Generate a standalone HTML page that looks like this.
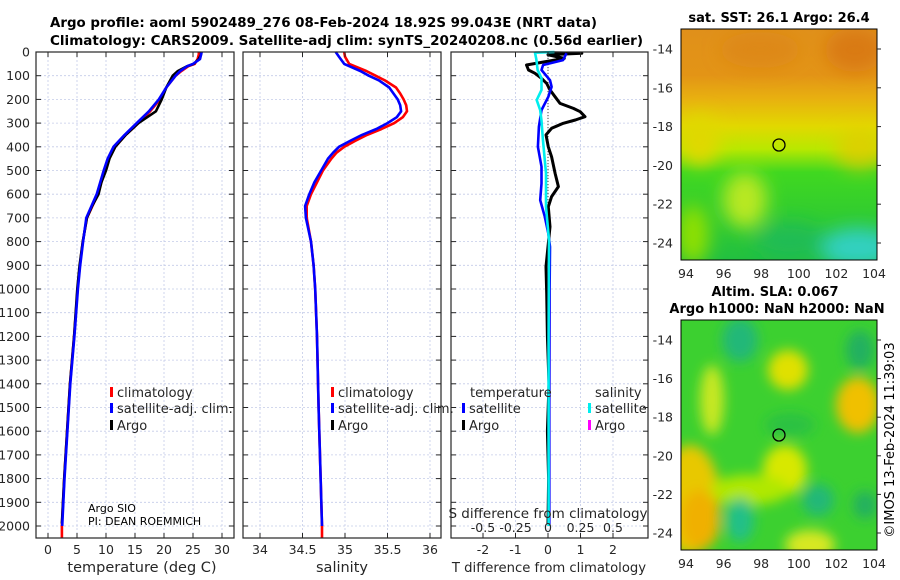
<!DOCTYPE html>
<html><head><meta charset="utf-8"><style>
html,body{margin:0;padding:0;background:#fff;}
svg{display:block;font-family:"DejaVu Sans","Liberation Sans",sans-serif;}
</style></head><body>
<svg id="chart" width="900" height="580" viewBox="0 0 900 580" xmlns="http://www.w3.org/2000/svg">
<defs>
<linearGradient id="sstBase" x1="0" y1="0" x2="0" y2="1">
<stop offset="0" stop-color="#e0901a"/><stop offset="0.2" stop-color="#e39416"/>
<stop offset="0.3" stop-color="#e8b010"/><stop offset="0.42" stop-color="#e2d800"/>
<stop offset="0.52" stop-color="#b8e800"/><stop offset="0.62" stop-color="#40d820"/>
<stop offset="1" stop-color="#22c040"/></linearGradient>
<filter id="blur1" x="-50%" y="-50%" width="200%" height="200%"><feGaussianBlur stdDeviation="9"/></filter>
<filter id="blur2" x="-50%" y="-50%" width="200%" height="200%"><feGaussianBlur stdDeviation="6"/></filter>
<clipPath id="clipMap1"><rect x="681" y="29" width="196" height="231"/></clipPath>
<clipPath id="clipMap2"><rect x="681" y="320" width="196" height="230"/></clipPath>
</defs>
<text x="50" y="27" font-size="13.5" font-weight="bold" textLength="547" lengthAdjust="spacingAndGlyphs">Argo profile: aoml 5902489_276 08-Feb-2024 18.92S 99.043E (NRT data)</text>
<text x="50" y="45" font-size="13.5" font-weight="bold" textLength="593" lengthAdjust="spacingAndGlyphs">Climatology: CARS2009. Satellite-adj clim: synTS_20240208.nc (0.56d earlier)</text>
<g id="g1"></g>
<g id="g2"></g>
<g id="g3"></g>

<g>
<text x="779" y="22" font-size="13" font-weight="bold" text-anchor="middle">sat. SST: 26.1 Argo: 26.4</text>
<g clip-path="url(#clipMap1)">
<rect x="681" y="29" width="196" height="231" fill="url(#sstBase)"/>
<g filter="url(#blur1)">
<ellipse cx="855" cy="50" rx="30" ry="22" fill="#d5700c" opacity="0.7"/>
<ellipse cx="760" cy="50" rx="40" ry="18" fill="#da8014" opacity="0.5"/>
<ellipse cx="745" cy="200" rx="22" ry="28" fill="#b8e820"/>
<ellipse cx="693" cy="235" rx="16" ry="30" fill="#90e000"/>
<ellipse cx="700" cy="140" rx="20" ry="25" fill="#e0d800"/>
<ellipse cx="860" cy="150" rx="25" ry="20" fill="#e8c800" opacity="0.7"/>
<ellipse cx="858" cy="248" rx="38" ry="20" fill="#30d0c0"/>
<ellipse cx="790" cy="240" rx="35" ry="18" fill="#20b860" opacity="0.7"/>
</g>
</g>
<rect x="681" y="29" width="196" height="231" fill="none" stroke="#000" stroke-width="1"/>
<circle cx="779" cy="145" r="6" fill="none" stroke="#000" stroke-width="1.3"/>
</g>

<g>
<text x="775" y="296" font-size="13" font-weight="bold" text-anchor="middle">Altim. SLA: 0.067</text>
<text x="777" y="313" font-size="13" font-weight="bold" text-anchor="middle">Argo h1000: NaN h2000: NaN</text>
<g clip-path="url(#clipMap2)">
<rect x="681" y="320" width="196" height="230" fill="#3cd030"/>
<g filter="url(#blur2)">
<ellipse cx="690" cy="500" rx="30" ry="55" fill="#e8c800"/>
<ellipse cx="700" cy="520" rx="20" ry="30" fill="#f0b000"/>
<ellipse cx="712" cy="400" rx="12" ry="35" fill="#c8e820"/>
<ellipse cx="788" cy="370" rx="20" ry="20" fill="#e0e000"/>
<ellipse cx="858" cy="405" rx="22" ry="28" fill="#f0c000"/>
<ellipse cx="785" cy="470" rx="22" ry="25" fill="#d8e800"/>
<ellipse cx="750" cy="490" rx="40" ry="15" fill="#b0e800"/>
<ellipse cx="810" cy="545" rx="25" ry="15" fill="#d8e820"/>
<ellipse cx="740" cy="340" rx="18" ry="22" fill="#20b878"/>
<ellipse cx="740" cy="520" rx="14" ry="22" fill="#20c088"/>
<ellipse cx="818" cy="500" rx="16" ry="16" fill="#20b878"/>
<ellipse cx="860" cy="350" rx="14" ry="20" fill="#20b060"/>
<ellipse cx="865" cy="505" rx="12" ry="14" fill="#20b060"/>
<ellipse cx="790" cy="425" rx="25" ry="12" fill="#20b850" opacity="0.6"/>
</g>
</g>
<rect x="681" y="320" width="196" height="230" fill="none" stroke="#000" stroke-width="1"/>
<circle cx="779" cy="435" r="6" fill="none" stroke="#000" stroke-width="1.3"/>
</g>
<text transform="translate(894,440) rotate(-90)" font-size="13" text-anchor="middle">©IMOS 13-Feb-2024 11:39:03</text>
<text x="88" y="512" font-size="11">Argo SIO</text>
<text x="88" y="525" font-size="11">PI: DEAN ROEMMICH</text>
</svg>
<script>
// ---- data ----
const depthT = [0,10,30,50,60,80,100,150,200,250,300,350,400,450,500,600,700,800,900,1000,1200,1400,1600,1800,2000,2050];
const tClim = [26.0,26.0,25.8,25.3,24.2,23.0,22.0,20.4,19.3,17.6,15.6,13.4,11.6,10.5,9.8,8.6,6.7,6.0,5.5,5.1,4.5,3.8,3.3,2.8,2.4,2.4];
const tSat  = [26.5,26.4,26.2,25.0,24.0,22.8,22.0,20.4,19.1,17.4,15.3,13.2,11.3,10.3,9.6,8.4,6.6,6.05,5.55,5.15,4.55,3.85,3.35,2.85,2.45];
const depthA = [0,10,30,50,60,80,100,150,200,250,275,300,350,400,450,500,550,600,650,700,800,900,1000,1200,1400,1600,1800,1990];
const tArgo = [26.4,26.4,26.0,25.1,24.0,22.4,21.5,20.4,19.6,18.6,17.1,15.6,13.4,11.6,10.6,10.0,9.2,8.7,7.6,6.7,6.0,5.45,5.05,4.5,3.8,3.3,2.8,2.4];
const depthS = [0,20,50,80,100,120,150,175,200,225,250,275,300,325,350,375,400,425,450,500,550,600,650,700,800,900,1000,1200,1500,2000,2050];
const sClim = [34.99,35.0,35.05,35.25,35.36,35.47,35.6,35.65,35.69,35.72,35.73,35.68,35.58,35.43,35.26,35.12,34.99,34.9,34.84,34.74,34.67,34.6,34.55,34.55,34.6,34.63,34.65,34.67,34.69,34.73,34.73];
const sSat  = [34.89,34.93,34.99,35.18,35.28,35.4,35.52,35.57,35.62,35.65,35.66,35.61,35.5,35.37,35.2,35.06,34.93,34.86,34.8,34.72,34.64,34.58,34.53,34.54,34.6,34.63,34.65,34.67,34.69,34.73];
const depthDT = [5,34,55,76,119,147,189,245,315,400,484,555,625,695,765,822,1000,1500,2000];
const dTSat = [0.57,0.46,-0.15,-0.2,0.06,0.11,0.01,-0.2,-0.28,-0.31,-0.2,-0.2,-0.24,-0.1,0.01,0.06,0.05,0.04,0.04];
const depthDA = [3,5,12,27,55,76,90,111,133,160,189,217,238,252,273,287,301,322,350,400,442,512,568,610,653,737,821,906,1018,1200,1400,1600,1800,1990];
const dTArgo = [0.0,1.04,0.0,0.5,-0.66,-0.6,-0.4,-0.2,-0.04,0.06,0.22,0.37,0.78,0.99,1.14,0.84,0.47,0.11,-0.06,0.01,0.11,0.22,0.32,0.11,0.01,0.06,0.0,-0.06,-0.04,-0.02,0.03,-0.02,0.02,0.0];
const depthDS = [0,3,30,76,110,160,203,245,290,365,512,653,794,1200,2000];
const dSSat = [0.05,-0.1,-0.09,-0.08,-0.05,-0.05,-0.087,-0.06,-0.05,-0.04,-0.015,-0.015,0.008,0.005,0.005];
const depthTicks = [0,100,200,300,400,500,600,700,800,900,1000,1100,1200,1300,1400,1500,1600,1700,1800,1900,2000];
const tTicks = [0,5,10,15,20,25,30];
const sTicks = [34,34.5,35,35.5,36];
const dTTicks = [-2,-1,0,1,2];
const dSTicks = [-0.5,-0.25,0,0.25,0.5];
const dSTickLabels = ['-0.5','-0.25','0','0.25','0.5'];
const latTicks = [-14,-16,-18,-20,-22,-24];
const lonTicks = [94,96,98,100,102,104];

// ---- scales ----
const yD = d => 52 + d*0.237;
const xT = t => 48 + t*5.8;
const xS = s => 260 + (s-34)*85;
const xDT = v => 548 + v*32.5;
const xDS = v => 548 + v*130;
const lon1 = l => 686 + (l-94)*18.8;
const lat1 = l => 49 + (-14-l)*19.4;
const lat2 = l => 340 + (-14-l)*19.3;

const NS='http://www.w3.org/2000/svg';
const svg=document.getElementById('chart');
function mk(tag,attrs,parent){const e=document.createElementNS(NS,tag);for(const k in attrs)e.setAttribute(k,attrs[k]);(parent||svg).appendChild(e);return e;}

const panels=[{g:'g1',x0:36,x1:234},{g:'g2',x0:243,x1:441},{g:'g3',x0:451,x1:648}];
const Y0=52,Y1=538;

function grid(p,xs){
  const g=document.getElementById(p.g);
  depthTicks.forEach(d=>{
    const l=mk('line',{x1:p.x0,x2:p.x1,y1:yD(d),y2:yD(d),stroke:'#c4cbe8','stroke-width':0.8,'stroke-dasharray':'2,2'},g);
    
    
  });
  xs.forEach(x=>{
    const l=mk('line',{x1:x,x2:x,y1:Y0,y2:Y1,stroke:'#c4cbe8','stroke-width':0.8,'stroke-dasharray':'2,2'},g);
    
    
  });
}
function frame(p,xs){
  const g=document.getElementById(p.g);
  const r=mk('rect',{x:p.x0,y:Y0,width:p.x1-p.x0,height:Y1-Y0,fill:'none',stroke:'#262626','stroke-width':1.2},g);
  
  
  depthTicks.forEach(d=>{
    mk('line',{x1:p.x0,x2:p.x0+5,y1:yD(d),y2:yD(d),stroke:'#262626'},g);
    mk('line',{x1:p.x1-5,x2:p.x1,y1:yD(d),y2:yD(d),stroke:'#262626'},g);
  });
  xs.forEach(x=>{
    mk('line',{x1:x,x2:x,y1:Y1-5,y2:Y1,stroke:'#262626'},g);
    mk('line',{x1:x,x2:x,y1:Y0,y2:Y0+5,stroke:'#262626'},g);
  });
}
function line(g,ds,vs,xf,color,w,name){
  const pts=vs.map((v,i)=>xf(v).toFixed(1)+','+yD(ds[i]).toFixed(1)).join(' ');
  const e=mk('polyline',{points:pts,fill:'none',stroke:color,'stroke-width':w,'stroke-linejoin':'round'},g);
  
  
  return e;
}
function label(txt,x,y,anchor,size,parent,name){
  const t=mk('text',{x:x,y:y,'text-anchor':anchor,'font-size':size,fill:'#262626'},parent);
  t.textContent=txt;
  
  
  return t;
}
function legend(g,x,y,color,txt,name){
  const b=mk('rect',{x:x,y:y-10,width:3,height:10,fill:color},g);
  
  
  label(txt,x+7,y,'start',13,g,name);
}

// panel 1
const g1=document.getElementById('g1');
grid(panels[0],tTicks.map(xT));
line(g1,depthT,tClim,xT,'#ff0000',2.6,'temperature-climatology-line');
line(g1,depthA,tArgo,xT,'#000000',2.6,'temperature-argo-line');
line(g1,depthT.slice(0,tSat.length),tSat,xT,'#0000ff',2.6,'temperature-satellite-line');
frame(panels[0],tTicks.map(xT));
depthTicks.forEach(d=>label(String(d),30,yD(d)+4.5,'end',12.5,g1,'depth-tick-label'));
tTicks.forEach(t=>label(String(t),xT(t),554,'middle',12.5,g1,'temperature-tick-label'));
label('temperature (deg C)',142,572,'middle',14.5,g1,'temperature-axis-title');
legend(g1,110,397,'#ff0000','climatology','legend-climatology');
legend(g1,110,413,'#0000ff','satellite-adj. clim.','legend-satellite-adj');
legend(g1,110,430,'#000000','Argo','legend-argo');

// panel 2
const g2=document.getElementById('g2');
grid(panels[1],sTicks.map(xS));
line(g2,depthS,sClim,xS,'#ff0000',2.6,'salinity-climatology-line');
line(g2,depthS.slice(0,sSat.length),sSat,xS,'#0000ff',2.6,'salinity-satellite-line');
frame(panels[1],sTicks.map(xS));
sTicks.forEach(s=>label(String(s),xS(s),554,'middle',12.5,g2,'salinity-tick-label'));
label('salinity',342,572,'middle',14.5,g2,'salinity-axis-title');
legend(g2,331,397,'#ff0000','climatology','legend-climatology-sal');
legend(g2,331,413,'#0000ff','satellite-adj. clim.','legend-satellite-adj-sal');
legend(g2,331,430,'#000000','Argo','legend-argo-sal');

// panel 3
const g3=document.getElementById('g3');
grid(panels[2],dTTicks.map(xDT));
const zl=mk('line',{x1:xDT(0),x2:xDT(0),y1:Y0,y2:yD(720),stroke:'#444','stroke-width':1,'stroke-dasharray':'1,2'},g3);


line(g3,depthDA,dTArgo,xDT,'#000000',3,'temperature-diff-argo-line');
line(g3,depthDT,dTSat,xDT,'#0000ff',2.6,'temperature-diff-satellite-line');
line(g3,depthDS,dSSat,xDS,'#00eeee',2.6,'salinity-diff-satellite-line');
frame(panels[2],dTTicks.map(xDT));
dTTicks.forEach(t=>label(String(t),xDT(t),554,'middle',12.5,g3,'t-diff-tick-label'));
dSTicks.forEach((s,i)=>label(dSTickLabels[i],xDS(s),532,'middle',12.5,g3,'s-diff-tick-label'));
label('S difference from climatology',548,518,'middle',13.5,g3,'s-diff-axis-title');
label('T difference from climatology',549,572,'middle',13.2,g3,'t-diff-axis-title');
label('temperature',470,397,'start',13,g3,'legend-temperature-heading');
legend(g3,462,413,'#0000ff','satellite','legend-t-satellite');
legend(g3,462,430,'#000000','Argo','legend-t-argo');
label('salinity',595,397,'start',13,g3,'legend-salinity-heading');
legend(g3,588,413,'#00eeee','satellite','legend-s-satellite');
legend(g3,588,430,'#ff00ff','Argo','legend-s-argo');

// map ticks
latTicks.forEach(l=>{
  label(String(l),673,lat1(l)+4.5,'end',12.5,svg,'sst-lat-tick-label');
  label(String(l),673,lat2(l)+4.5,'end',12.5,svg,'sla-lat-tick-label');
  mk('line',{x1:877,x2:881,y1:lat1(l),y2:lat1(l),stroke:'#262626'});
  mk('line',{x1:877,x2:881,y1:lat2(l),y2:lat2(l),stroke:'#262626'});
});
lonTicks.forEach(l=>{
  label(String(l),lon1(l),278,'middle',12.5,svg,'sst-lon-tick-label');
  label(String(l),lon1(l),568,'middle',12.5,svg,'sla-lon-tick-label');
});
</script>
</body></html>
